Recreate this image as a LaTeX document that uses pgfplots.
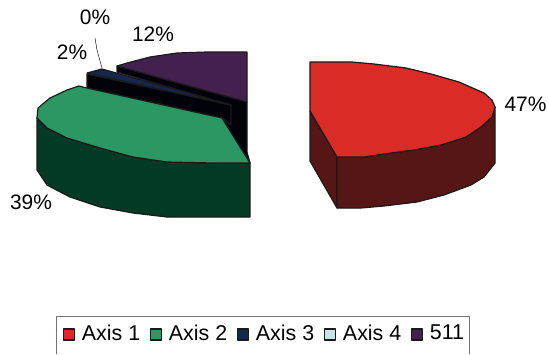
\documentclass[border=0pt]{standalone}
\usepackage{pgfplots}
\pgfplotsset{compat=1.18}
\usepackage{fontspec}
\setmainfont{Liberation Sans}
\definecolor{cR}{HTML}{DB2B27}\definecolor{cRd}{HTML}{571616}
\definecolor{cG}{HTML}{2B9763}\definecolor{cGd}{HTML}{023A25}
\definecolor{cN}{HTML}{14284F}\definecolor{cK}{HTML}{02020A}
\definecolor{cL}{HTML}{C5E6E2}
\definecolor{cP}{HTML}{43204F}\definecolor{cL2}{HTML}{1A1A1A}
\begin{document}
\begin{tikzpicture}
\begin{axis}[
  scale only axis, width=548bp, height=354bp,
  xmin=0, xmax=548, ymin=0, ymax=354, y dir=reverse,
  hide axis, clip=false,
  every axis plot/.append style={draw=cL2, line width=1.2pt, line join=round},
  legend columns=-1,
  legend image code/.code={\draw[#1,line width=1.2pt] (0bp,-7bp) rectangle (11bp,4bp);},
  legend style={at={(axis cs:63,333)}, anchor=west,
    draw=none, fill=none, font=\fontsize{21.5}{24}\selectfont,
    inner sep=0pt, nodes={inner xsep=0pt, inner ysep=1pt},
    /tikz/every odd column/.append style={column sep=6.5bp},
    /tikz/every even column/.append style={column sep=10bp}},
]
\addlegendimage{fill=cR,draw=cL2}\addlegendentry{Axis 1}
\addlegendimage{fill=cG,draw=cL2}\addlegendentry{Axis 2}
\addlegendimage{fill=cN,draw=cL2}\addlegendentry{Axis 3}
\addlegendimage{fill=cL,draw=cL2}\addlegendentry{Axis 4}
\addlegendimage{fill=cP,draw=cL2}\addlegendentry{511}
% purple wall and top
\addplot[fill=cK,forget plot] coordinates {(117,66)(117,72)(231,105)(222,118)(250,163)(247,152)(247,102)} --cycle;
\addplot[fill=cP,forget plot] coordinates {(117,66)(127,63)(150,57)(177,53)(207,52)(247,52)(247,102)} --cycle;
% navy wall and top
\addplot[fill=cK,forget plot] coordinates {(87,74)(87,88)(222,118)(231,125)(231,105)} --cycle;
\addplot[fill=cN,forget plot] coordinates {(87,73)(102,69)(231,105)} --cycle;
% green side and top
\addplot[fill=cGd,forget plot] coordinates {(37,118)(37,170)(47,185)(70,197)(100,207)(133,213)(167,217)(250,217)(250,163)(213,163)(167,162)(133,157)(100,148)(67,138)(47,128)} --cycle;
\addplot[fill=cG,forget plot] coordinates {(79,86)(87,88)(222,118)(250,163)(213,163)(167,162)(133,157)(100,148)(67,138)(47,128)(37,118)(38,108)(50,98)(67,90)} --cycle;
% red sides and top
\addplot[fill=cRd,forget plot] coordinates {(310,111)(310,161)(337,208)(337,157)} --cycle;
\addplot[fill=cRd,forget plot] coordinates {(337,157)(337,208)(361,208)(384,206)(417,202)(444,195)(471,185)(484,177)(495,163)(495,107)(492,117)(481,127)(466,137)(441,145)(414,150)(391,153)(364,157)} --cycle;
\addplot[fill=cR,forget plot] coordinates {(310,62)(352,62)(374,64)(406,68)(431,74)(459,82)(484,93)(492,100)(495,107)(492,117)(481,127)(466,137)(441,145)(414,150)(391,153)(364,157)(337,157)(310,111)} --cycle;
% leader line
\addplot[draw=cL2,line width=0.5pt,forget plot,no marks,fill=none] coordinates {(95,38)(97,50)(102,68)};
% legend frame, open at the foot of the page
\addplot[draw=black!55,line width=0.9pt,forget plot,no marks,fill=none] coordinates {(56,354)(56,316)(469,316)(469,354)};
\node[inner sep=0pt,font=\fontsize{21}{23}\selectfont] at (axis cs:525.5,104) {47\%};
\node[inner sep=0pt,font=\fontsize{21}{23}\selectfont] at (axis cs:31,202) {39\%};
\node[inner sep=0pt,font=\fontsize{21}{23}\selectfont] at (axis cs:72,52) {2\%};
\node[inner sep=0pt,font=\fontsize{21}{23}\selectfont] at (axis cs:95,17) {0\%};
\node[inner sep=0pt,font=\fontsize{21}{23}\selectfont] at (axis cs:153,34) {12\%};
\end{axis}
\path[use as bounding box] (0,0) rectangle (548bp,354bp);
\end{tikzpicture}
\end{document}
